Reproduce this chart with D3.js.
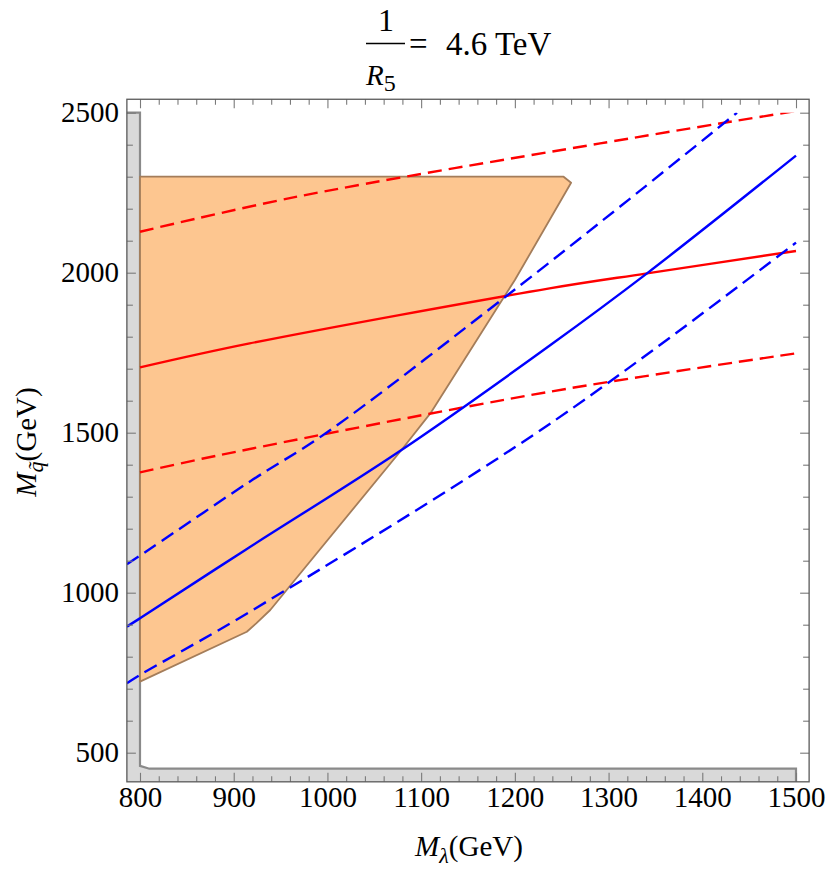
<!DOCTYPE html>
<html><head><meta charset="utf-8">
<script src="https://cdn.jsdelivr.net/npm/d3@7"></script>
<style>
body{margin:0;background:#fff}
</style>
</head><body><svg id="c" width="830" height="870" font-family="Liberation Serif"></svg>
<script>
// ---- data ----
const xTickValues = [800, 900, 1000, 1100, 1200, 1300, 1400, 1500];
const yTickValues = [500, 1000, 1500, 2000, 2500];
const redSolid        = [[800,1704],[917,1779],[1237,1951],[1341,1998],[1500,2068]];
const redDashedUpper  = [[800,2128],[965,2236],[1291,2404],[1500,2505]];
const redDashedLower  = [[800,1376],[885,1430],[1237,1628],[1500,1748]];
const blueSolid       = [[786,894],[800,920],[912,1133],[1079,1446],[1238,1774],[1341,1998],[1500,2366]];
const blueDashedUpper = [[786,1089],[800,1116],[917,1347],[999,1500],[1191,1927],[1312,2206],[1437,2500]];
const blueDashedLower = [[786,717],[800,743],[917,940],[1238,1529],[1500,2094]];
const allowedRegion   = [[800,2300],[1252,2300],[1260,2281],[1200,1977],[1184,1904],[1110,1561],[1079,1446],[939,946],[924,904],[914,878],[800,722]];
const excludedRegion  = [[786,2500],[800,2500],[800,459],[810,450],[1500,450],[1500,409],[786,409]];
const excludedEdge    = [[786,2500],[800,2500],[800,459],[810,450],[1500,450],[1500,409]];
const xDomain = [786, 1514];
const yDomain = [409, 2542];

const FONT = "'Liberation Serif','Times New Roman',serif";

// ---- scales ----
const svg = d3.select("#c");
const x = d3.scaleLinear().domain([800,1500]).range([140,796]);
const y = d3.scaleLinear().domain([500,2500]).range([752.7,112.7]);
const X0 = x(xDomain[0]), X1 = x(xDomain[1]), Y0 = y(yDomain[1]), Y1 = y(yDomain[0]);

const lin = d3.line().x(d=>x(d[0])).y(d=>y(d[1]));
const crv = d3.line().x(d=>x(d[0])).y(d=>y(d[1])).curve(d3.curveCatmullRom.alpha(0.5));

svg.append("defs").append("clipPath").attr("id","clip")
  .append("rect").attr("x",X0).attr("y",y(2500)).attr("width",X1-X0).attr("height",Y1-y(2500));

// excluded (gray) region
svg.append("path").attr("d", lin(excludedRegion)+"Z").attr("fill","#d9d9d9").attr("stroke","none");
svg.append("path").attr("d", lin(excludedEdge)).attr("fill","none").attr("stroke","#8a8a8a").attr("stroke-width",2.2);

// allowed (orange) region
svg.append("path").attr("d", lin(allowedRegion)+"Z")
  .attr("fill","#fdc690").attr("stroke","#a47d5a").attr("stroke-width",1.8).attr("stroke-linejoin","round");

const g = svg.append("g").attr("clip-path","url(#clip)");
const lines = [
  {d: redDashedUpper,  c:"#ff0000", dash:"14,7"},
  {d: redSolid,        c:"#ff0000", dash:null},
  {d: redDashedLower,  c:"#ff0000", dash:"14,7"},
  {d: blueDashedUpper, c:"#0000ff", dash:"14,7"},
  {d: blueSolid,       c:"#0000ff", dash:null},
  {d: blueDashedLower, c:"#0000ff", dash:"14,7"}
];
lines.forEach(l=>{
  g.append("path").attr("d",crv(l.d)).attr("fill","none").attr("stroke",l.c)
   .attr("stroke-width",2.4).attr("stroke-dasharray",l.dash);
});

// ---- frame & ticks ----
const tickCol = "#7a7a7a";
const xMinor = d3.range(xTickValues[0], xTickValues[xTickValues.length-1]+1, 20).filter(v=>!xTickValues.includes(v));
const yMinor = d3.range(yTickValues[0], yTickValues[yTickValues.length-1]+1, 100).filter(v=>!yTickValues.includes(v));

function styleAxis(sel){
  sel.attr("font-family", null).attr("font-size", null);
  sel.select(".domain").remove();
  sel.selectAll("line").attr("stroke",tickCol).attr("stroke-width",1.1);
  sel.selectAll("text").style("font-family",FONT).style("font-size","29px").attr("fill","#000");
}
// bottom
svg.append("g").attr("transform",`translate(0,${Y1})`)
  .call(d3.axisBottom(x).tickValues(xTickValues).tickSize(-9).tickPadding(5).tickFormat(d3.format("d"))).call(styleAxis);
svg.append("g").attr("transform",`translate(0,${Y1})`)
  .call(d3.axisBottom(x).tickValues(xMinor).tickSize(-5.5).tickFormat("")).call(styleAxis);
// top
svg.append("g").attr("transform",`translate(0,${Y0})`)
  .call(d3.axisTop(x).tickValues(xTickValues).tickSize(-9).tickFormat("")).call(styleAxis);
svg.append("g").attr("transform",`translate(0,${Y0})`)
  .call(d3.axisTop(x).tickValues(xMinor).tickSize(-5.5).tickFormat("")).call(styleAxis);
// left
svg.append("g").attr("transform",`translate(${X0},0)`)
  .call(d3.axisLeft(y).tickValues(yTickValues).tickSize(-9).tickPadding(8).tickFormat(d3.format("d"))).call(styleAxis);
svg.append("g").attr("transform",`translate(${X0},0)`)
  .call(d3.axisLeft(y).tickValues(yMinor).tickSize(-6).tickFormat("")).call(styleAxis);
// right
svg.append("g").attr("transform",`translate(${X1},0)`)
  .call(d3.axisRight(y).tickValues(yTickValues).tickSize(-9).tickFormat("")).call(styleAxis);
svg.append("g").attr("transform",`translate(${X1},0)`)
  .call(d3.axisRight(y).tickValues(yMinor).tickSize(-6).tickFormat("")).call(styleAxis);

svg.append("rect").attr("x",X0).attr("y",Y0).attr("width",X1-X0).attr("height",Y1-Y0)
  .attr("fill","none").attr("stroke","#5a5a5a").attr("stroke-width",1.3);

function T(sel){ return sel.style("font-family",FONT).attr("fill","#000"); }

// ---- axis labels ----
const xl = T(svg.append("text")).attr("x",469).attr("y",856).attr("text-anchor","middle").style("font-size","29px");
xl.append("tspan").attr("font-style","italic").text("M");
xl.append("tspan").attr("font-style","italic").attr("dy",7).style("font-size","22px").text("λ");
xl.append("tspan").attr("dy",-7).text("(GeV)");

const yl = T(svg.append("text")).attr("transform","translate(36,442) rotate(-90)").attr("text-anchor","middle").style("font-size","29px");
yl.append("tspan").attr("font-style","italic").text("M");
yl.append("tspan").attr("font-style","italic").attr("dy",7).style("font-size","22px").text("q\u0303");
yl.append("tspan").attr("dy",-7).text("(GeV)");

// ---- title ----
T(svg.append("text")).attr("x",386).attr("y",31).attr("text-anchor","middle").style("font-size","32px").text("1");
svg.append("line").attr("x1",366).attr("x2",405).attr("y1",43.5).attr("y2",43.5).attr("stroke","#000").attr("stroke-width",1.6);
const den = T(svg.append("text")).attr("x",366).attr("y",85).style("font-size","29px");
den.append("tspan").attr("font-style","italic").text("R");
den.append("tspan").attr("dy",6).style("font-size","24px").text("5");
T(svg.append("text")).attr("x",409).attr("y",55).style("font-size","33px").text("=");
T(svg.append("text")).attr("x",446).attr("y",55).style("font-size","33px").text("4.6 TeV");
</script>
</body></html>
